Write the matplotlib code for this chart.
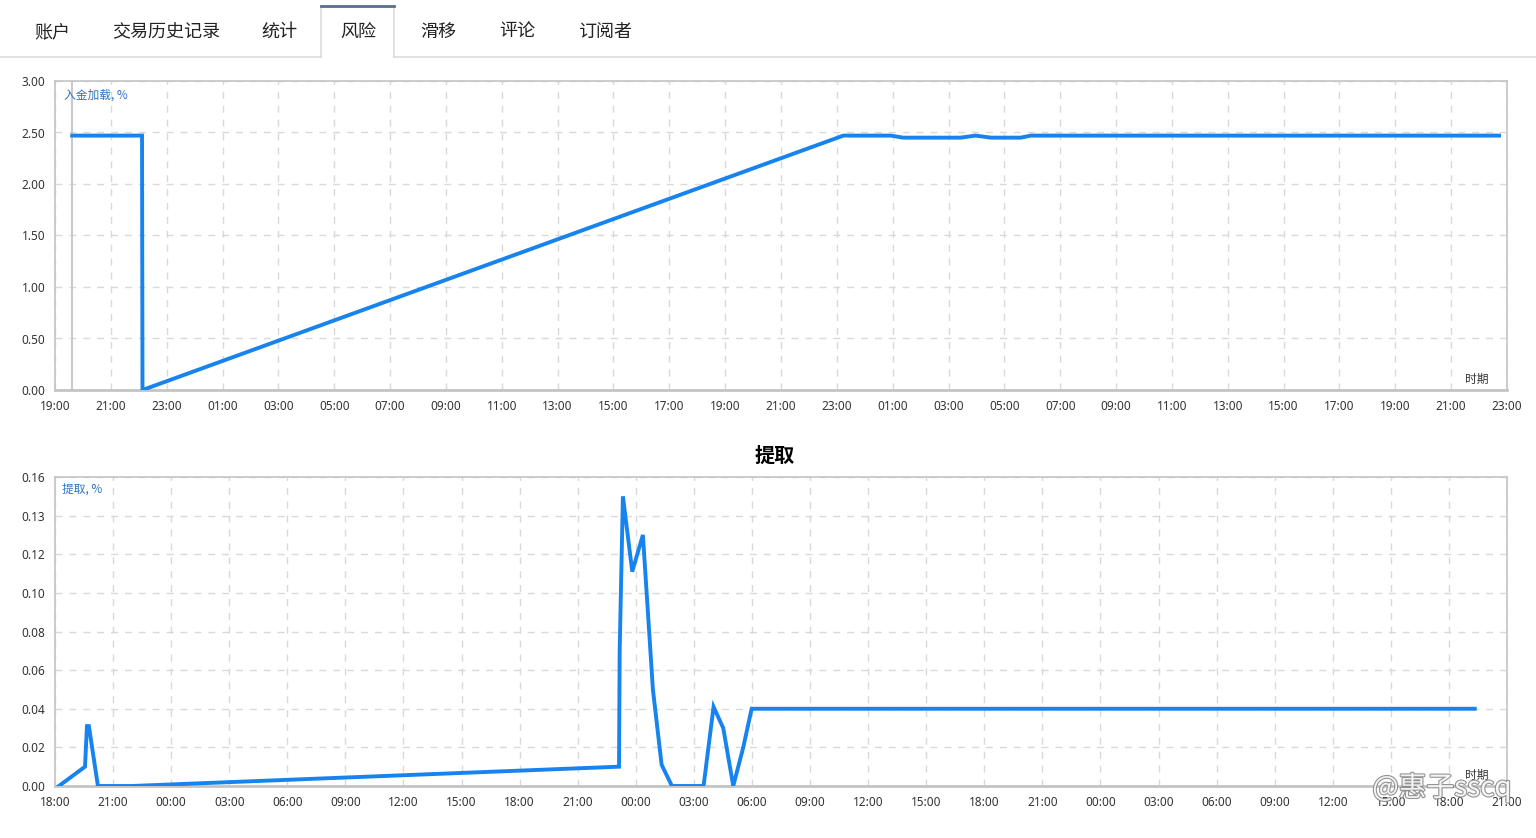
import pandas as pd
import matplotlib
matplotlib.use("Agg")
import matplotlib.pyplot as plt
import matplotlib.dates as mdates
import matplotlib.patheffects as pe
from matplotlib.lines import Line2D

plt.rcParams['font.family'] = ['Noto Sans CJK SC', 'DejaVu Sans']

# ── data ──────────────────────────────────────────────────────────────────
tabs = ["账户", "交易历史记录", "统计", "风险", "滑移", "评论", "订阅者"]
tab_x = [52, 166, 279, 358, 438, 517, 605]   # label centres (px)

load_times = ["2023-05-01 19:37", "2023-05-01 22:07", "2023-05-01 22:08",
              "2023-05-02 23:14", "2023-05-03 00:56", "2023-05-03 01:22",
              "2023-05-03 03:26", "2023-05-03 03:58", "2023-05-03 04:31",
              "2023-05-03 05:35", "2023-05-03 05:57", "2023-05-03 22:43"]
load_vals = [2.47, 2.47, 0.00, 2.47, 2.47, 2.45, 2.45, 2.47, 2.45, 2.45, 2.47, 2.47]
load_range = ("2023-05-01 19:00", "2023-05-03 23:00")
load_yticks = [0.0, 0.5, 1.0, 1.5, 2.0, 2.5, 3.0]
load_ylabels = ["0.00", "0.50", "1.00", "1.50", "2.00", "2.50", "3.00"]

dd_times = ["2023-05-01 18:12", "2023-05-01 19:33", "2023-05-01 19:39",
            "2023-05-01 19:45", "2023-05-01 20:13", "2023-05-01 21:58",
            "2023-05-02 23:08", "2023-05-02 23:10", "2023-05-02 23:20",
            "2023-05-02 23:49", "2023-05-03 00:22", "2023-05-03 00:53",
            "2023-05-03 01:20", "2023-05-03 01:52", "2023-05-03 03:30",
            "2023-05-03 04:01", "2023-05-03 04:31", "2023-05-03 05:02",
            "2023-05-03 05:33", "2023-05-03 05:59", "2023-05-04 19:20"]
dd_vals = [0.000, 0.010, 0.031, 0.031, 0.000, 0.000,
           0.010, 0.070, 0.150, 0.111, 0.130, 0.050,
           0.011, 0.000, 0.000, 0.041, 0.030, 0.000,
           0.020, 0.040, 0.040]
dd_range = ("2023-05-01 18:00", "2023-05-04 21:00")
dd_yticks = [0.00, 0.02, 0.04, 0.06, 0.08, 0.10, 0.12, 0.14, 0.16]
dd_ylabels = ["0.00", "0.02", "0.04", "0.06", "0.08", "0.10", "0.12", "0.13", "0.16"]

# ── style ─────────────────────────────────────────────────────────────────
LINE = "#1683ee"
GRID = "#d9d9d9"
SPINE = "#c4c4c4"
TXT = "#333333"
BLUE_TXT = "#2f72c0"

W, H = 1536, 838
fig = plt.figure(figsize=(W / 100, H / 100), dpi=100)
fig.patch.set_facecolor("white")


def fx(px):
    return px / W


def fy(py):
    return 1 - py / H


# ── tab bar ───────────────────────────────────────────────────────────────
fig.add_artist(Line2D([0, fx(321)], [fy(57), fy(57)], color="#dcdcdc", lw=1.2))
fig.add_artist(Line2D([fx(394), 1], [fy(57), fy(57)], color="#dcdcdc", lw=1.2))
fig.add_artist(Line2D([fx(321), fx(321)], [fy(6), fy(57)], color="#dcdcdc", lw=1.2))
fig.add_artist(Line2D([fx(394), fx(394)], [fy(6), fy(57)], color="#dcdcdc", lw=1.2))
fig.add_artist(Line2D([fx(321), fx(394)], [fy(6), fy(6)], color="#557090", lw=2))
for name, x in zip(tabs, tab_x):
    fig.text(fx(x), fy(32), name, ha="center", va="center", fontsize=13,
             color="#222222")


def style_axes(ax, x0, x1, y_top, y_bot):
    ax.set_position([fx(x0), fy(y_bot), fx(x1 - x0), (y_bot - y_top) / H])
    for s in ax.spines.values():
        s.set_color(SPINE)
        s.set_linewidth(1.2)
    ax.spines["bottom"].set_linewidth(2)
    ax.grid(True, color=GRID, linestyle=(0, (5, 5)), linewidth=1)
    ax.set_axisbelow(True)
    ax.tick_params(length=0, labelsize=8.5, colors=TXT, pad=7)
    for lbl in ax.get_xticklabels() + ax.get_yticklabels():
        lbl.set_fontfamily(["Noto Sans", "DejaVu Sans"])


# ── top chart: deposit load ───────────────────────────────────────────────
ax1 = fig.add_axes([0, 0, 1, 1])
t1 = pd.to_datetime(load_times)
ax1.plot(t1, load_vals, color=LINE, lw=2.8, solid_joinstyle="miter", zorder=3)
ax1.axvline(t1[0], color="#c8c8c8", lw=1.4, zorder=2)
ax1.set_xlim(pd.Timestamp(load_range[0]), pd.Timestamp(load_range[1]))
ax1.set_ylim(0, 3.0)
ax1.set_yticks(load_yticks, load_ylabels)
ax1.xaxis.set_major_locator(mdates.HourLocator(byhour=range(1, 24, 2)))
ax1.xaxis.set_major_formatter(mdates.DateFormatter("%H:%M"))
style_axes(ax1, 55, 1507, 81, 390)
ax1.text(0.006, 0.955, "入金加载, %", transform=ax1.transAxes, fontsize=8.5,
         color=BLUE_TXT, ha="left", va="center")
ax1.text(0.987, 0.035, "时期", transform=ax1.transAxes, fontsize=8.5,
         color=TXT, ha="right", va="center")

# ── bottom chart: drawdown ────────────────────────────────────────────────
fig.text(fx(775), fy(455), "提取", ha="center", va="center", fontsize=14.5,
         fontweight="bold", color="black")

ax2 = fig.add_axes([0, 0, 1, 1])
t2 = pd.to_datetime(dd_times)
ax2.plot(t2, dd_vals, color=LINE, lw=2.8, solid_joinstyle="miter", zorder=3)
ax2.set_xlim(pd.Timestamp(dd_range[0]), pd.Timestamp(dd_range[1]))
ax2.set_ylim(0, 0.16)
ax2.set_yticks(dd_yticks, dd_ylabels)
ax2.xaxis.set_major_locator(mdates.HourLocator(byhour=range(0, 24, 3)))
ax2.xaxis.set_major_formatter(mdates.DateFormatter("%H:%M"))
style_axes(ax2, 55, 1507, 477, 786)
ax2.text(0.005, 0.96, "提取, %", transform=ax2.transAxes, fontsize=8.5,
         color=BLUE_TXT, ha="left", va="center")
ax2.text(0.987, 0.035, "时期", transform=ax2.transAxes, fontsize=8.5,
         color=TXT, ha="right", va="center")

# watermark
fig.text(fx(1442), fy(788), "@惠子sscq", ha="center", va="center", fontsize=20,
         color="white", alpha=0.9,
         path_effects=[pe.withStroke(linewidth=1.6, foreground="#888888")])

fig.savefig("out.png", dpi=100, facecolor="white")
